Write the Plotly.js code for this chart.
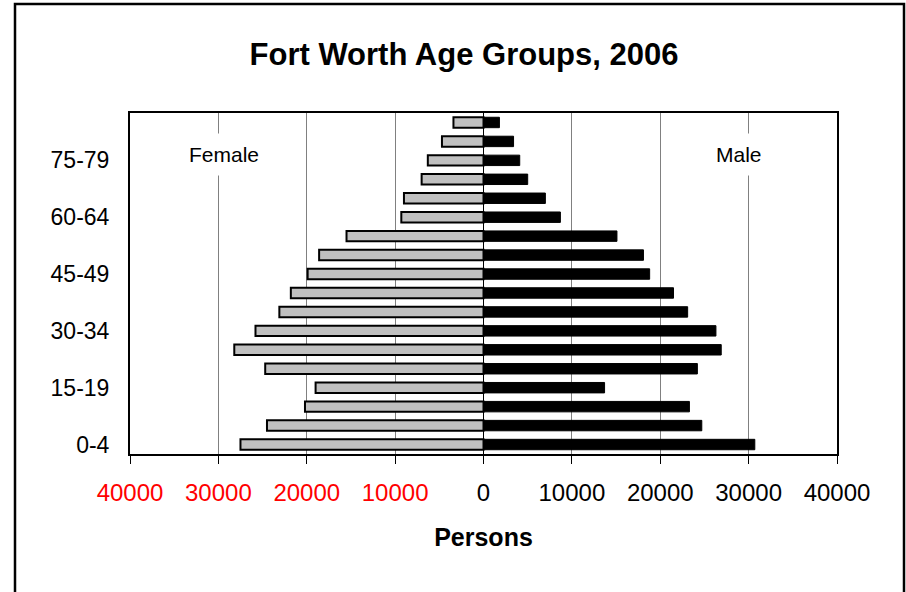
<!DOCTYPE html>
<html>
<head>
<meta charset="utf-8">
<script src="https://cdn.plot.ly/plotly-3.0.1.min.js"></script>
<style>
  html, body { margin: 0; padding: 0; background: #fff; }
  #chart { width: 906px; height: 592px; }
</style>
</head>
<body>
<div id="chart"></div>
<script>
// Age groups from youngest (bottom) to oldest (top)
const ageGroups = ['0-4','5-9','10-14','15-19','20-24','25-29','30-34','35-39','40-44',
                   '45-49','50-54','55-59','60-64','65-69','70-74','75-79','80-84','85+'];
// Persons
const female = [27500, 24500, 20200, 19000, 24700, 28200, 25800, 23100, 21800,
                19900, 18600, 15500, 9300, 9000, 7000, 6300, 4700, 3400];
const male   = [30700, 24700, 23300, 13700, 24200, 26900, 26300, 23100, 21500,
                18800, 18100, 15100, 8700, 7000, 5000, 4100, 3400, 1800];

const shownAgeTicks = ['0-4','15-19','30-34','45-49','60-64','75-79'];
const xTickVals = [-40000,-30000,-20000,-10000,0,10000,20000,30000,40000];
const xTickText = ['40000','30000','20000','10000','0','10000','20000','30000','40000'];

const FONT = 'Arial, "Liberation Sans", sans-serif';

const traces = [
  {
    type: 'bar', orientation: 'h', name: 'Female',
    y: ageGroups, x: female.map(v => -v),
    width: 0.55,
    marker: { color: '#c0c0c0', line: { color: '#000', width: 2 } },
    hoverinfo: 'skip'
  },
  {
    type: 'bar', orientation: 'h', name: 'Male',
    y: ageGroups, x: male,
    width: 0.55,
    marker: { color: '#000', line: { color: '#000', width: 1 } },
    hoverinfo: 'skip'
  }
];

const tickText = xTickText.map((t, i) =>
  xTickVals[i] < 0 ? '<span style="fill:#ff0000">' + t + '</span>' : t);

const layout = {
  width: 906, height: 592,
  margin: { l: 130, r: 69, t: 113, b: 138 },
  paper_bgcolor: '#fff', plot_bgcolor: '#fff',
  barmode: 'overlay',
  showlegend: false,
  font: { family: FONT, color: '#000', size: 22 },
  title: {
    text: '<b>Fort Worth Age Groups, 2006</b>',
    font: { family: FONT, size: 31, color: '#000' },
    x: 464 / 906, xref: 'container', xanchor: 'center',
    y: 1 - 54/592, yref: 'container', yanchor: 'middle'
  },
  xaxis: {
    range: [-40000, 40000],
    tickvals: xTickVals, ticktext: tickText,
    ticks: 'outside', ticklen: 8, tickcolor: '#000', tickwidth: 1,
    ticklabelstandoff: 8,
    tickfont: { family: FONT, size: 24, color: '#000' },
    showgrid: true, gridcolor: '#808080', gridwidth: 1,
    zeroline: true, zerolinecolor: '#000', zerolinewidth: 1,
    showline: true, mirror: true, linecolor: '#000', linewidth: 2,
    fixedrange: true,
    title: { text: '<b>Persons</b>', font: { family: FONT, size: 25, color: '#000' }, standoff: 24 }
  },
  yaxis: {
    type: 'category',
    categoryorder: 'array', categoryarray: ageGroups,
    range: [-0.5, 17.5],
    tickvals: shownAgeTicks, ticktext: shownAgeTicks,
    ticks: '', ticklabelstandoff: 14,
    tickfont: { family: FONT, size: 23, color: '#000' },
    showgrid: false, zeroline: false,
    showline: true, mirror: true, linecolor: '#000', linewidth: 2,
    fixedrange: true
  },
  annotations: [
    { text: 'Female', x: -29350, xref: 'x', y: 0.877, yref: 'paper',
      xanchor: 'center', yanchor: 'middle',
      showarrow: false, font: { family: FONT, size: 21, color: '#000' },
      bgcolor: '#fff', borderpad: 9 },
    { text: 'Male', x: 28900, xref: 'x', y: 0.877, yref: 'paper',
      xanchor: 'center', yanchor: 'middle',
      showarrow: false, font: { family: FONT, size: 21, color: '#000' },
      bgcolor: '#fff', borderpad: 9 }
  ],
  shapes: [
    { type: 'rect', xref: 'paper', yref: 'paper', layer: 'above',
      x0: (15 - 130) / 707, x1: (904 - 130) / 707,
      y0: -0.6, y1: (454 - 4) / 341,
      line: { color: '#000', width: 2.5 }, fillcolor: 'rgba(0,0,0,0)' }
  ]
};

Plotly.newPlot('chart', traces, layout, { staticPlot: true, displayModeBar: false });
</script>
</body>
</html>
